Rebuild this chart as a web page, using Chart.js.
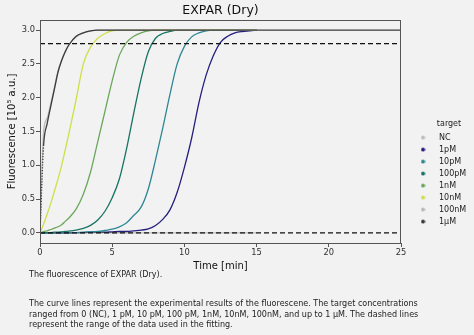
<!DOCTYPE html>
<html>
<head>
<meta charset="utf-8">
<script src="https://cdn.jsdelivr.net/npm/chart.js@4"></script>
<style>
  html, body { margin: 0; padding: 0; background: #f2f2f2; }
  #wrap { position: relative; width: 474px; height: 335px; overflow: hidden; font-family: 'DejaVu Sans', sans-serif; color: #222; }
  #chart { position: absolute; left: 0; top: 0; }
  .cap { position: absolute; left: 29px; font-size: 8.05px; line-height: 10.7px; white-space: nowrap; }
</style>
</head>
<body>
<div id="wrap">
  <canvas id="chart" width="474" height="272" style="width:474px;height:272px"></canvas>
  <div class="cap" style="top:269.5px">The fluorescence of EXPAR (Dry).</div>
  <div class="cap" style="top:299px">The curve lines represent the experimental results of the fluorescene. The target concentrations<br>ranged from 0 (NC), 1 pM, 10 pM, 100 pM, 1nM, 10nM, 100nM, and up to 1 μM. The dashed lines<br>represent the range of the data used in the fitting.</div>
</div>
<script>
// time points [min], shared by all curves
const time = [0, 0.25, 0.5, 0.75, 1, 1.25, 1.5, 1.75, 2, 2.5, 3, 3.5, 4, 4.5, 5, 5.5, 6, 6.5, 7, 7.5,
  8, 8.5, 9, 9.5, 10, 10.5, 11, 11.5, 12, 12.5, 13, 13.5, 14, 14.5, 15, 20, 25];

const targets = ['NC', '1pM', '10pM', '100pM', '1nM', '10nM', '100nM', '1µM'];

// fluorescence [10^5 a.u.]
const nc = [0, 0, 0, 0, 0, 0, 0, 0, 0, 0, 0, 0, 0, 0, 0, 0, 0, 0, 0, 0,
  0, 0, 0, 0, 0, 0, 0, 0, 0, 0, 0, 0, 0, 0, 0, null, null];
const pm1 = [0, 0, 0, 0, 0, 0, 0, 0, 0, 0.005, 0.005, 0.01, 0.01, 0.01, 0.015, 0.02, 0.02, 0.03, 0.04, 0.06,
  0.11, 0.2, 0.34, 0.6, 0.97, 1.4, 1.92, 2.33, 2.62, 2.82, 2.91, 2.96, 2.98, 2.99, 3.0, null, null];
const pm10 = [0, 0, 0, 0, 0, 0, 0, 0, 0, 0.005, 0.01, 0.015, 0.02, 0.035, 0.055, 0.09, 0.15, 0.26, 0.38, 0.65,
  1.08, 1.55, 2.05, 2.5, 2.76, 2.9, 2.96, 2.99, 3.0, 3.0, 3.0, 3.0, 3.0, 3.0, 3.0, null, null];
const pm100 = [0, 0, 0.005, 0.005, 0.01, 0.01, 0.015, 0.02, 0.025, 0.04, 0.065, 0.11, 0.19, 0.32, 0.52, 0.8, 1.25, 1.78, 2.28, 2.68,
  2.88, 2.95, 2.98, 3.0, 3.0, 3.0, 3.0, 3.0, 3.0, 3.0, 3.0, 3.0, 3.0, 3.0, 3.0, null, null];
const nm1 = [0, 0.02, 0.03, 0.05, 0.07, 0.09, 0.12, 0.17, 0.22, 0.35, 0.57, 0.9, 1.35, 1.8, 2.25, 2.63, 2.82, 2.91, 2.96, 2.99,
  3.0, 3.0, 3.0, 3.0, 3.0, 3.0, 3.0, 3.0, 3.0, 3.0, 3.0, 3.0, 3.0, 3.0, 3.0, null, null];
const nm10 = [0, 0.13, 0.28, 0.44, 0.62, 0.8, 1.0, 1.23, 1.47, 1.97, 2.5, 2.75, 2.88, 2.95, 2.99, 3.0, 3.0, 3.0, 3.0, 3.0,
  3.0, 3.0, 3.0, 3.0, 3.0, 3.0, 3.0, 3.0, 3.0, 3.0, 3.0, 3.0, 3.0, 3.0, 3.0, null, null];
const nm100 = [0, 1.5, 1.7, 1.92, 2.15, 2.4, 2.56, 2.69, 2.79, 2.9, 2.96, 2.99, 3.0, 3.0, 3.0, 3.0, 3.0, 3.0, 3.0, 3.0,
  3.0, 3.0, 3.0, 3.0, 3.0, 3.0, 3.0, 3.0, 3.0, 3.0, 3.0, 3.0, 3.0, 3.0, 3.0, null, null];
const um1 = [0, 1.3, 1.62, 1.88, 2.13, 2.38, 2.55, 2.68, 2.78, 2.91, 2.96, 2.99, 3.0, 3.0, 3.0, 3.0, 3.0, 3.0, 3.0, 3.0,
  3.0, 3.0, 3.0, 3.0, 3.0, 3.0, 3.0, 3.0, 3.0, 3.0, 3.0, 3.0, 3.0, 3.0, 3.0, 3.0, 3.0];

// dashed lines: range of the data used in the fitting
const fitBounds = [0, 2.8];
const timeRange = [0, 25];

const xTicks = [0, 5, 10, 15, 20, 25];
const yTicks = [0, 0.5, 1, 1.5, 2, 2.5, 3];

const values = [nc, pm1, pm10, pm100, nm1, nm10, nm100, um1];
const colors = ['#bdbdbd', '#261f7f', '#2d8795', '#177463', '#6ba75b', '#cfdf48', '#b9b9b9', '#3b3b3b'];
const FONT = 'DejaVu Sans';

function dot(color) {
  const c = document.createElement('canvas');
  c.width = 5; c.height = 5;
  const g = c.getContext('2d');
  g.fillStyle = color;
  g.beginPath();
  g.arc(2.5, 2.5, 2, 0, Math.PI * 2);
  g.fill();
  return c;
}

const datasets = targets.map((name, i) => ({
  label: name,
  data: time.map((t, j) => ({ x: t, y: values[i][j] })).filter(p => p.y !== null),
  borderColor: colors[i],
  backgroundColor: colors[i],
  borderWidth: 1.3,
  pointRadius: 0,
  pointStyle: dot(colors[i]),
  showLine: true,
  cubicInterpolationMode: 'monotone',
  order: targets.length - i,
  segment: name === '1µM' ? { borderDash: ctx => ctx.p1DataIndex === 1 ? [1.2, 1.6] : undefined } : undefined
}));

fitBounds.forEach(v => {
  datasets.push({
    label: 'fit',
    data: timeRange.map(t => ({ x: t, y: v })),
    borderColor: '#111',
    borderWidth: 1.3,
    borderDash: [5, 3],
    pointRadius: 0,
    showLine: true,
    order: 0
  });
});

// frame around the plot
const frame = {
  id: 'frame',
  afterDatasetsDraw(chart) {
    const { ctx, chartArea: a } = chart;
    ctx.save();
    ctx.strokeStyle = '#555';
    ctx.lineWidth = 1;
    ctx.strokeRect(Math.round(a.left) + 0.5, Math.round(a.top) + 0.5, Math.round(a.width) - 1, Math.round(a.height));
    ctx.restore();
  }
};

// put the legend block where matplotlib had it
const legendPlace = {
  id: 'legendPlace',
  afterLayout(chart) {
    const lg = chart.legend;
    lg.left = 407; lg.right = 491; lg.width = 84;
    lg.top = 120; lg.bottom = 330; lg.height = 210;
  }
};

const chart = new Chart(document.getElementById('chart'), {
  type: 'scatter',
  data: { datasets },
  options: {
    responsive: false,
    animation: false,
    layout: { padding: { left: 0, right: 0, top: 0, bottom: 0 } },
    plugins: {
      tooltip: { enabled: false },
      title: {
        display: true, text: 'EXPAR (Dry)', fullSize: false, color: '#111',
        font: { family: FONT, size: 12.5, weight: 'normal' },
        padding: { top: 3.5, bottom: 1.5 }
      },
      legend: {
        position: 'right', align: 'start',
        title: { display: true, text: 'target', color: '#222', font: { family: FONT, size: 8 }, padding: 0 },
        labels: {
          usePointStyle: true, pointStyleWidth: 24, padding: 4, color: '#222',
          font: { family: FONT, size: 8 },
          filter: item => item.datasetIndex < targets.length,
          sort: (a, b) => a.datasetIndex - b.datasetIndex
        }
      }
    },
    scales: {
      x: {
        type: 'linear', min: timeRange[0], max: timeRange[1],
        afterBuildTicks: s => { s.ticks = xTicks.map(v => ({ value: v })); },
        afterFit: s => { s.height = 29; },
        ticks: { color: '#333', font: { family: FONT, size: 8.3 }, padding: 1, maxRotation: 0 },
        grid: { drawOnChartArea: false, drawTicks: true, tickLength: 4, tickColor: '#555' },
        border: { display: false },
        title: { display: true, text: 'Time [min]', color: '#111', font: { family: FONT, size: 10 }, padding: 0 }
      },
      y: {
        type: 'linear', min: -0.15, max: 3.15,
        afterBuildTicks: s => { s.ticks = yTicks.map(v => ({ value: v })); },
        afterFit: s => { s.width = 40; },
        ticks: { color: '#333', font: { family: FONT, size: 8.3 }, padding: 1, callback: v => v.toFixed(1) },
        grid: { drawOnChartArea: false, drawTicks: true, tickLength: 4, tickColor: '#555' },
        border: { display: false },
        title: { display: true, text: 'Fluorescence [10⁵ a.u.]', color: '#111', font: { family: FONT, size: 10 }, padding: { top: 6, bottom: 0 } }
      }
    }
  },
  plugins: [frame, legendPlace]
});

// keep the plot's right edge where the reference has it
chart.options.layout.padding.right += chart.chartArea.right - 401;
chart.update('none');
</script>
</body>
</html>
